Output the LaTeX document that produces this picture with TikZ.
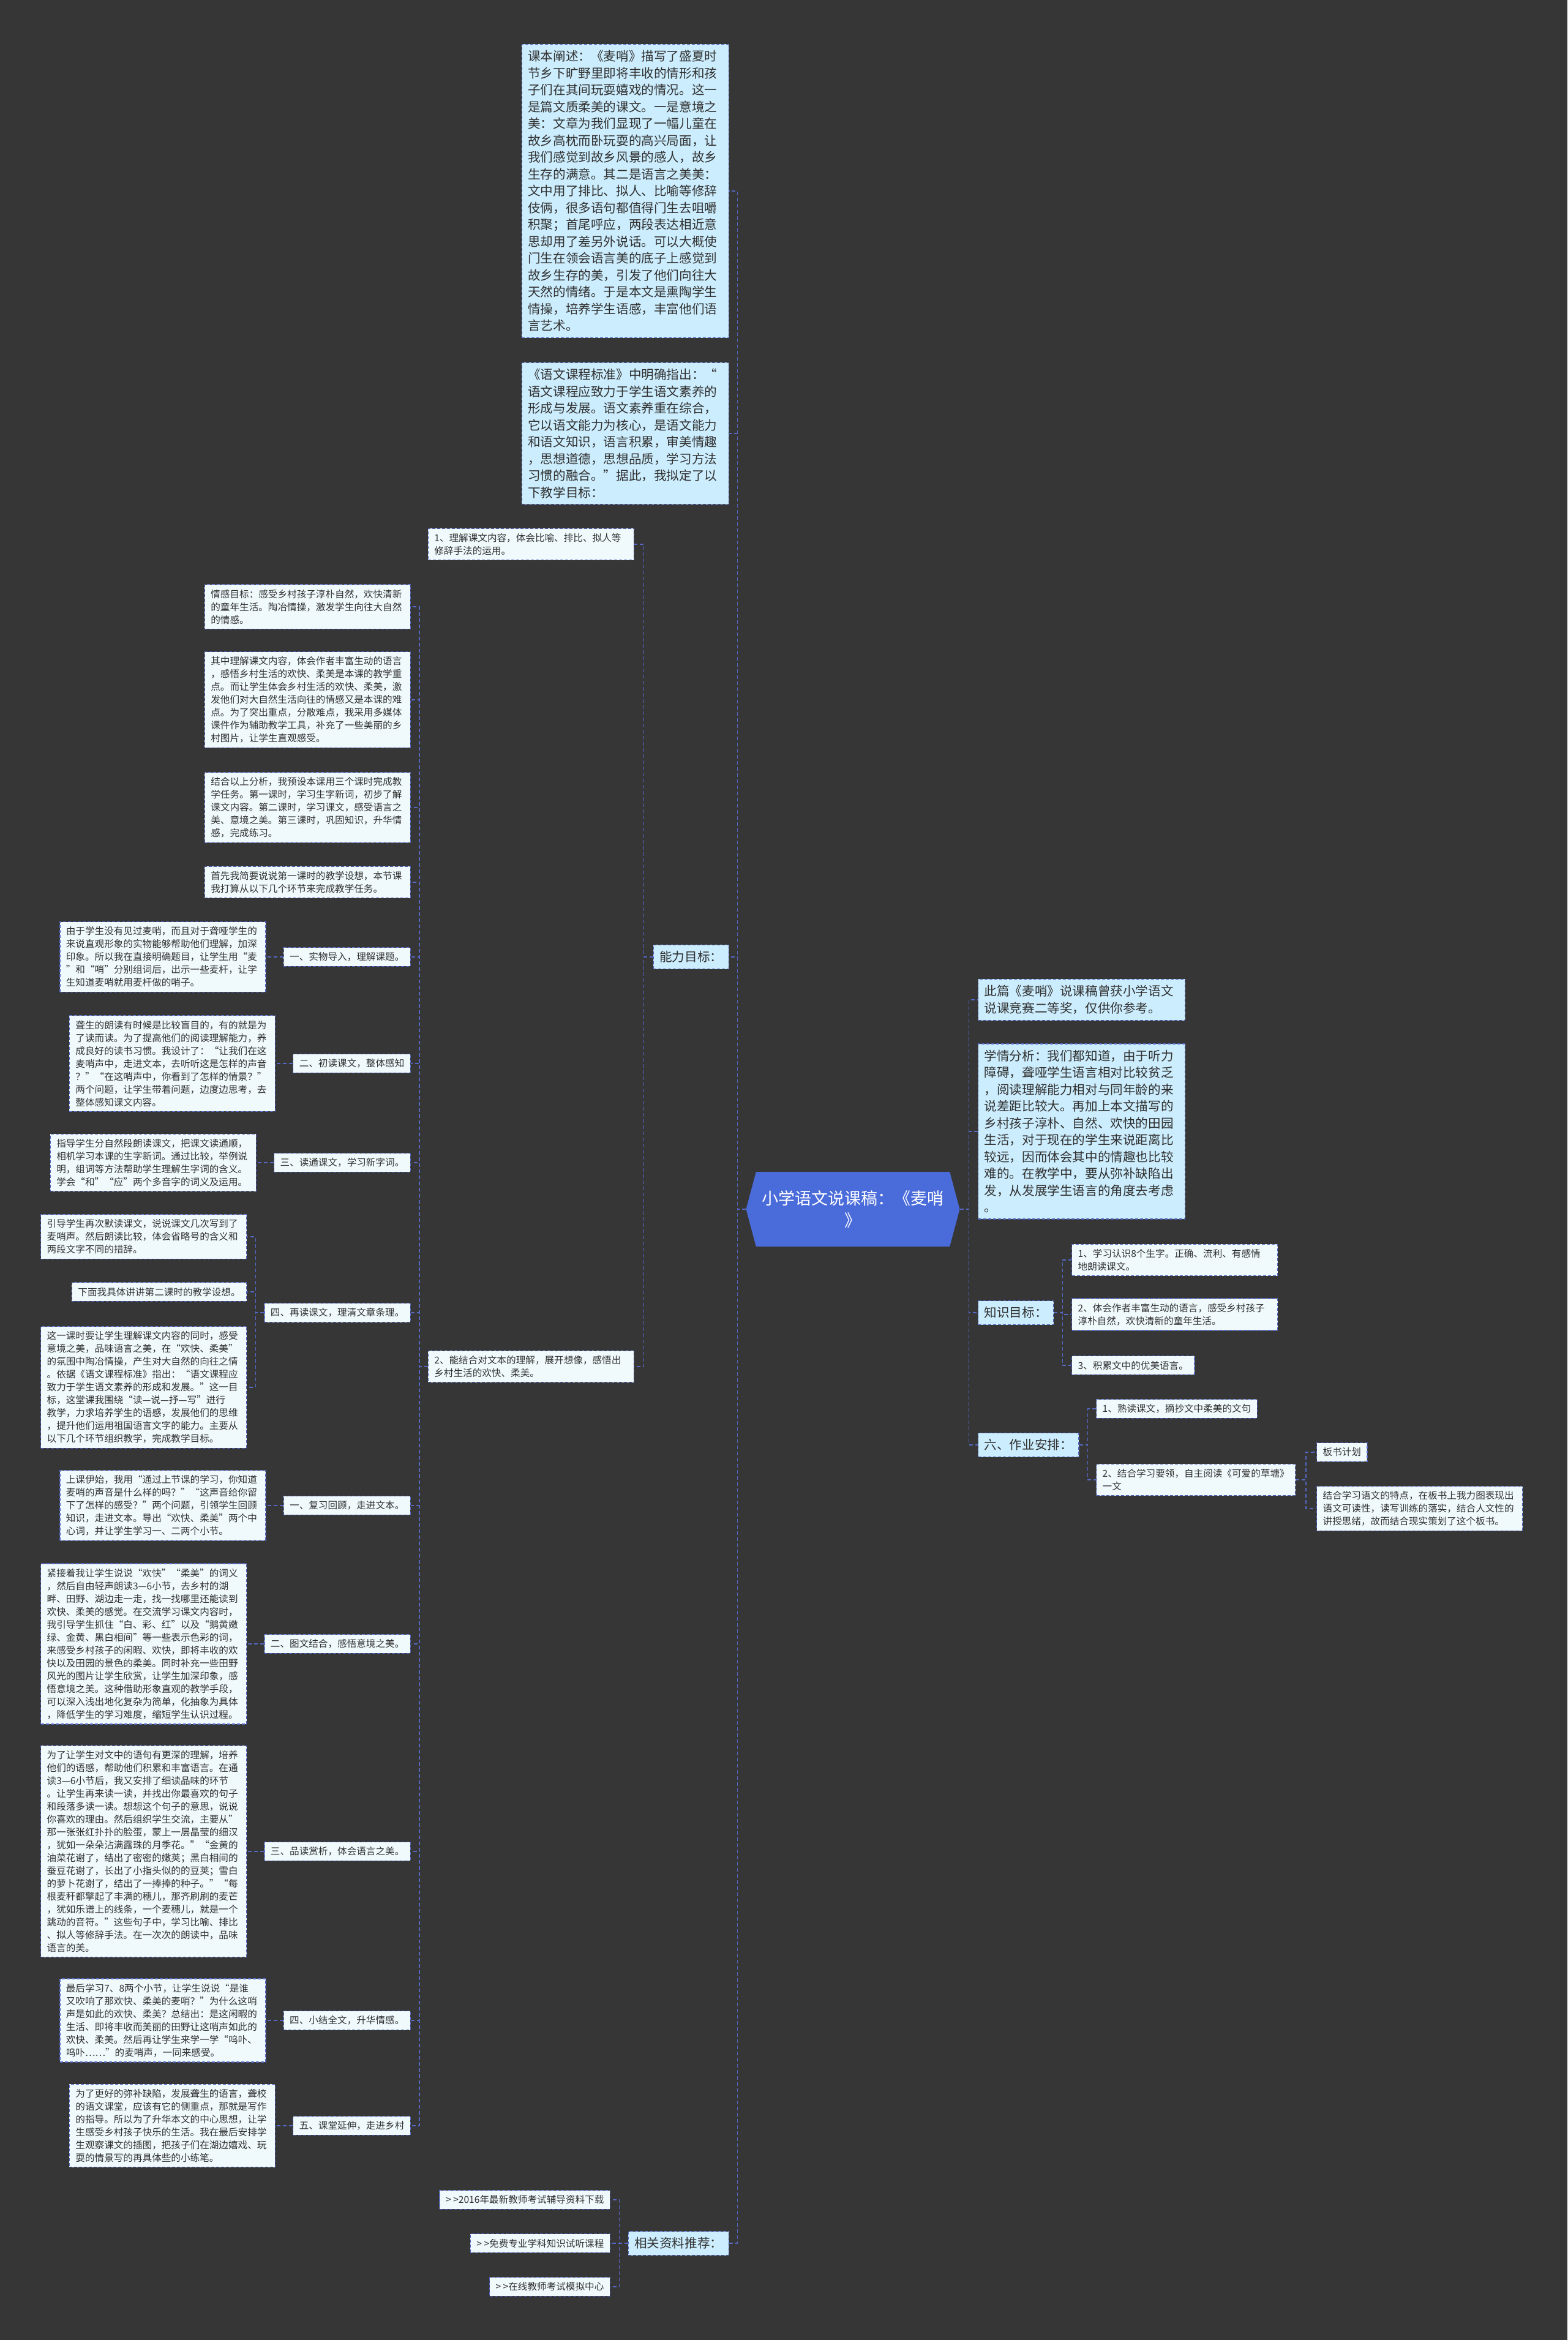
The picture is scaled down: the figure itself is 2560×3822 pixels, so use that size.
\documentclass[tikz,border=0pt]{standalone}
\usepackage{fontspec}
\setmainfont{Noto Sans CJK SC}
\usetikzlibrary{calc}
\usetikzlibrary{shapes.symbols}

\definecolor{bgcol}{HTML}{363636}
\definecolor{leafcol}{HTML}{F0FAFD}
\definecolor{topiccol}{HTML}{CCEDFD}
\definecolor{rootcol}{HTML}{4A6BDA}
\definecolor{linecol}{HTML}{5468C4}
\definecolor{txtcol}{HTML}{303030}

\newcommand{\leaffont}{\fontsize{15.6}{21}\selectfont}
\newcommand{\topicfont}{\fontsize{20.6}{27.5}\selectfont}
\newcommand{\rootfont}{\fontsize{27}{36}\selectfont}

\tikzset{
  box/.style={draw=linecol, line width=1.3pt, dash pattern=on 5pt off 3pt,
    text=txtcol, align=left, inner xsep=10pt, inner ysep=8pt},
  leaf/.style={box, fill=leafcol, font=\leaffont, text width=316pt},
  tip/.style={box, fill=leafcol, font=\leaffont},
  topic/.style={box, fill=topiccol, font=\topicfont, inner ysep=10pt},
  para/.style={topic, text width=318pt},
  link/.style={draw=linecol, line width=1.5pt, dash pattern=on 6pt off 4pt},
  rootbox/.style={signal, signal to=west and east, signal pointer angle=150,
    fill=rootcol, text=white, font=\rootfont, align=center,
    minimum width=349pt, minimum height=122pt, inner sep=0pt}
}

\begin{document}
\begin{tikzpicture}[x=1pt, y=-1pt]
    \def\colx{671}
    \def\gap{28}

    % Background
    \fill[bgcol] (0,0) rectangle (2560,3822);
    \useasboundingbox (0,0) rectangle (2560,3822);

    % Root
    \node[rootbox] (root) at (1393,1975) {小学语文说课稿：《麦哨\\》};

    % Left branches
    \node[para, anchor=east] (p1) at (1191,312) {课本阐述：《麦哨》描写了盛夏时\\节乡下旷野里即将丰收的情形和孩\\子们在其间玩耍嬉戏的情况。这一\\是篇文质柔美的课文。一是意境之\\美：文章为我们显现了一幅儿童在\\故乡高枕而卧玩耍的高兴局面，让\\我们感觉到故乡风景的感人，故乡\\生存的满意。其二是语言之美美：\\文中用了排比、拟人、比喻等修辞\\伎俩，很多语句都值得门生去咀嚼\\积聚；首尾呼应，两段表达相近意\\思却用了差另外说话。可以大概使\\门生在领会语言美的底子上感觉到\\故乡生存的美，引发了他们向往大\\天然的情绪。于是本文是熏陶学生\\情操，培养学生语感，丰富他们语\\言艺术。};
    \node[para, anchor=east] (p2) at (1191,708) {《语文课程标准》中明确指出：“\\语文课程应致力于学生语文素养的\\形成与发展。语文素养重在综合，\\它以语文能力为核心，是语文能力\\和语文知识，语言积累，审美情趣\\，思想道德，思想品质，学习方法\\习惯的融合。”据此，我拟定了以\\下教学目标：};
    \node[topic, anchor=east] (nengli) at (1191,1563) {能力目标：};
    \node[topic, anchor=east] (ziliao) at (1191,3664) {相关资料推荐：};

    % Ability goals
    \node[leaf, anchor=east] (li1) at (1036,889) {1、理解课文内容，体会比喻、排比、拟人等\\修辞手法的运用。};
    \node[leaf, anchor=east] (li2) at (1036,2232) {2、能结合对文本的理解，展开想像，感悟出\\乡村生活的欢快、柔美。};

    % Teaching steps
    \node[leaf, anchor=east] (qg) at (\colx,991) {情感目标：感受乡村孩子淳朴自然，欢快清新\\的童年生活。陶冶情操，激发学生向往大自然\\的情感。};
    \node[leaf, anchor=east] (qz) at (\colx,1143) {其中理解课文内容，体会作者丰富生动的语言\\，感悟乡村生活的欢快、柔美是本课的教学重\\点。而让学生体会乡村生活的欢快、柔美，激\\发他们对大自然生活向往的情感又是本课的难\\点。为了突出重点，分散难点，我采用多媒体\\课件作为辅助教学工具，补充了一些美丽的乡\\村图片，让学生直观感受。};
    \node[leaf, anchor=east] (jh) at (\colx,1319) {结合以上分析，我预设本课用三个课时完成教\\学任务。第一课时，学习生字新词，初步了解\\课文内容。第二课时，学习课文，感受语言之\\美、意境之美。第三课时，巩固知识，升华情\\感，完成练习。};
    \node[leaf, anchor=east] (sx) at (\colx,1441) {首先我简要说说第一课时的教学设想，本节课\\我打算从以下几个环节来完成教学任务。};
    \node[tip, anchor=east] (s1) at (\colx,1563) {一、实物导入，理解课题。};
    \node[tip, anchor=east] (s2) at (\colx,1737) {二、初读课文，整体感知};
    \node[tip, anchor=east] (s3) at (\colx,1899) {三、读通课文，学习新字词。};
    \node[tip, anchor=east] (s4) at (\colx,2144) {四、再读课文，理清文章条理。};
    \node[tip, anchor=east] (t1) at (\colx,2459) {一、复习回顾，走进文本。};
    \node[tip, anchor=east] (t2) at (\colx,2685) {二、图文结合，感悟意境之美。};
    \node[tip, anchor=east] (t3) at (\colx,3024) {三、品读赏析，体会语言之美。};
    \node[tip, anchor=east] (t4) at (\colx,3300) {四、小结全文，升华情感。};
    \node[tip, anchor=east] (t5) at (\colx,3472) {五、课堂延伸，走进乡村};

    % Step details
    \node[leaf, anchor=east] (s1d) at ($(s1.west)+(-\gap,0)$) {由于学生没有见过麦哨，而且对于聋哑学生的\\来说直观形象的实物能够帮助他们理解，加深\\印象。所以我在直接明确题目，让学生用“麦\\”和“哨”分别组词后，出示一些麦杆，让学\\生知道麦哨就用麦杆做的哨子。};
    \node[leaf, anchor=east] (s2d) at ($(s2.west)+(-\gap,0)$) {聋生的朗读有时候是比较盲目的，有的就是为\\了读而读。为了提高他们的阅读理解能力，养\\成良好的读书习惯。我设计了：“让我们在这\\麦哨声中，走进文本，去听听这是怎样的声音\\？”“在这哨声中，你看到了怎样的情景？”\\两个问题，让学生带着问题，边度边思考，去\\整体感知课文内容。};
    \node[leaf, anchor=east] (s3d) at ($(s3.west)+(-\gap,0)$) {指导学生分自然段朗读课文，把课文读通顺，\\相机学习本课的生字新词。通过比较，举例说\\明，组词等方法帮助学生理解生字词的含义。\\学会“和”“应”两个多音字的词义及运用。};
    \node[leaf, anchor=east] (s4a) at ($(s4.west)+(-\gap,-124)$) {引导学生再次默读课文，说说课文几次写到了\\麦哨声。然后朗读比较，体会省略号的含义和\\两段文字不同的措辞。};
    \node[tip, anchor=east] (s4b) at ($(s4.west)+(-\gap,-34)$) {下面我具体讲讲第二课时的教学设想。};
    \node[leaf, anchor=east] (s4c) at ($(s4.west)+(-\gap,122)$) {这一课时要让学生理解课文内容的同时，感受\\意境之美，品味语言之美，在“欢快、柔美”\\的氛围中陶冶情操，产生对大自然的向往之情\\。依据《语文课程标准》指出：“语文课程应\\致力于学生语文素养的形成和发展。”这一目\\标，这堂课我围绕“读—说—抒—写”进行\\教学，力求培养学生的语感，发展他们的思维\\，提升他们运用祖国语言文字的能力。主要从\\以下几个环节组织教学，完成教学目标。};
    \node[leaf, anchor=east] (t1d) at ($(t1.west)+(-\gap,0)$) {上课伊始，我用“通过上节课的学习，你知道\\麦哨的声音是什么样的吗？”“这声音给你留\\下了怎样的感受？”两个问题，引领学生回顾\\知识，走进文本。导出“欢快、柔美”两个中\\心词，并让学生学习一、二两个小节。};
    \node[leaf, anchor=east] (t2d) at ($(t2.west)+(-\gap,0)$) {紧接着我让学生说说“欢快”“柔美”的词义\\，然后自由轻声朗读3—6小节，去乡村的湖\\畔、田野、湖边走一走，找一找哪里还能读到\\欢快、柔美的感觉。在交流学习课文内容时，\\我引导学生抓住“白、彩、红”以及“鹅黄嫩\\绿、金黄、黑白相间”等一些表示色彩的词，\\来感受乡村孩子的闲暇、欢快，即将丰收的欢\\快以及田园的景色的柔美。同时补充一些田野\\风光的图片让学生欣赏，让学生加深印象，感\\悟意境之美。这种借助形象直观的教学手段，\\可以深入浅出地化复杂为简单，化抽象为具体\\，降低学生的学习难度，缩短学生认识过程。};
    \node[leaf, anchor=east] (t3d) at ($(t3.west)+(-\gap,0)$) {为了让学生对文中的语句有更深的理解，培养\\他们的语感，帮助他们积累和丰富语言。在通\\读3—6小节后，我又安排了细读品味的环节\\。让学生再来读一读，并找出你最喜欢的句子\\和段落多读一读。想想这个句子的意思，说说\\你喜欢的理由。然后组织学生交流，主要从”\\那一张张红扑扑的脸蛋，蒙上一层晶莹的细汉\\，犹如一朵朵沾满露珠的月季花。”“金黄的\\油菜花谢了，结出了密密的嫩荚；黑白相间的\\蚕豆花谢了，长出了小指头似的的豆荚；雪白\\的萝卜花谢了，结出了一捧捧的种子。”“每\\根麦秆都擎起了丰满的穗儿，那齐刷刷的麦芒\\，犹如乐谱上的线条，一个麦穗儿，就是一个\\跳动的音符。”这些句子中，学习比喻、排比\\、拟人等修辞手法。在一次次的朗读中，品味\\语言的美。};
    \node[leaf, anchor=east] (t4d) at ($(t4.west)+(-\gap,0)$) {最后学习7、8两个小节，让学生说说“是谁\\又吹响了那欢快、柔美的麦哨？”为什么这哨\\声是如此的欢快、柔美？总结出：是这闲暇的\\生活、即将丰收而美丽的田野让这哨声如此的\\欢快、柔美。然后再让学生来学一学“呜卟、\\呜卟……”的麦哨声，一同来感受。};
    \node[leaf, anchor=east] (t5d) at ($(t5.west)+(-\gap,0)$) {为了更好的弥补缺陷，发展聋生的语言，聋校\\的语文课堂，应该有它的侧重点，那就是写作\\的指导。所以为了升华本文的中心思想，让学\\生感受乡村孩子快乐的生活。我在最后安排学\\生观察课文的插图，把孩子们在湖边嬉戏、玩\\耍的情景写的再具体些的小练笔。};

    % Related links
    \node[tip, anchor=east] (z1) at (997,3593) {> >2016年最新教师考试辅导资料下载};
    \node[tip, anchor=east] (z2) at (997,3664) {> >免费专业学科知识试听课程};
    \node[tip, anchor=east] (z3) at (997,3735) {> >在线教师考试模拟中心};

    % Right branches
    \node[para, anchor=west] (cp) at (1597,1633) {此篇《麦哨》说课稿曾获小学语文\\说课竞赛二等奖，仅供你参考。};
    \node[para, anchor=west] (xq) at (1597,1848) {学情分析：我们都知道，由于听力\\障碍，聋哑学生语言相对比较贫乏\\，阅读理解能力相对与同年龄的来\\说差距比较大。再加上本文描写的\\乡村孩子淳朴、自然、欢快的田园\\生活，对于现在的学生来说距离比\\较远，因而体会其中的情趣也比较\\难的。在教学中，要从弥补缺陷出\\发，从发展学生语言的角度去考虑\\。};
    \node[topic, anchor=west] (zs) at (1597,2144) {知识目标：};
    \node[topic, anchor=west] (zy) at (1597,2360) {六、作业安排：};

    \node[leaf, anchor=west] (k1) at (1750,2058) {1、学习认识8个生字。正确、流利、有感情\\地朗读课文。};
    \node[leaf, anchor=west] (k2) at (1750,2147) {2、体会作者丰富生动的语言，感受乡村孩子\\淳朴自然，欢快清新的童年生活。};
    \node[tip, anchor=west] (k3) at (1750,2230) {3、积累文中的优美语言。};

    \node[tip, anchor=west] (h1) at (1790,2301) {1、熟读课文，摘抄文中柔美的文句};
    \node[tip, anchor=west] (h2) at (1790,2417) {2、结合学习要领，自主阅读《可爱的草塘》\\一文};
    \node[tip, anchor=west] (b1) at (2150,2372) {板书计划};
    \node[leaf, anchor=west] (b2) at (2150,2464) {结合学习语文的特点，在板书上我力图表现出\\语文可读性，读写训练的落实，结合人文性的\\讲授思绪，故而结合现实策划了这个板书。};

    % Connectors, left side
    \foreach \c in {p1,p2,nengli,ziliao}
        \draw[link] (root.west) -| ($(root.west)!.5!(\c.east)$) |- (\c.east);
    \foreach \c in {li1,li2}
        \draw[link] (nengli.west) -| ($(nengli.west)!.5!(\c.east)$) |- (\c.east);
    \foreach \c in {qg,qz,jh,sx,s1,s2,s3,s4,t1,t2,t3,t4,t5}
        \draw[link] (li2.west) -| ($(li2.west)!.5!(\c.east)$) |- (\c.east);
    \foreach \p/\c in {s1/s1d,s2/s2d,s3/s3d,s4/s4a,s4/s4b,s4/s4c,t1/t1d,t2/t2d,t3/t3d,t4/t4d,t5/t5d}
        \draw[link] (\p.west) -| ($(\p.west)!.5!(\c.east)$) |- (\c.east);
    \foreach \c in {z1,z2,z3}
        \draw[link] (ziliao.west) -| ($(ziliao.west)!.5!(\c.east)$) |- (\c.east);

    % Connectors, right side
    \foreach \c in {cp,xq,zs,zy}
        \draw[link] (root.east) -| ($(root.east)!.5!(\c.west)$) |- (\c.west);
    \foreach \p/\c in {zs/k1,zs/k2,zs/k3,zy/h1,zy/h2,h2/b1,h2/b2}
        \draw[link] (\p.east) -| ($(\p.east)!.5!(\c.west)$) |- (\c.west);

\end{tikzpicture}
\end{document}
